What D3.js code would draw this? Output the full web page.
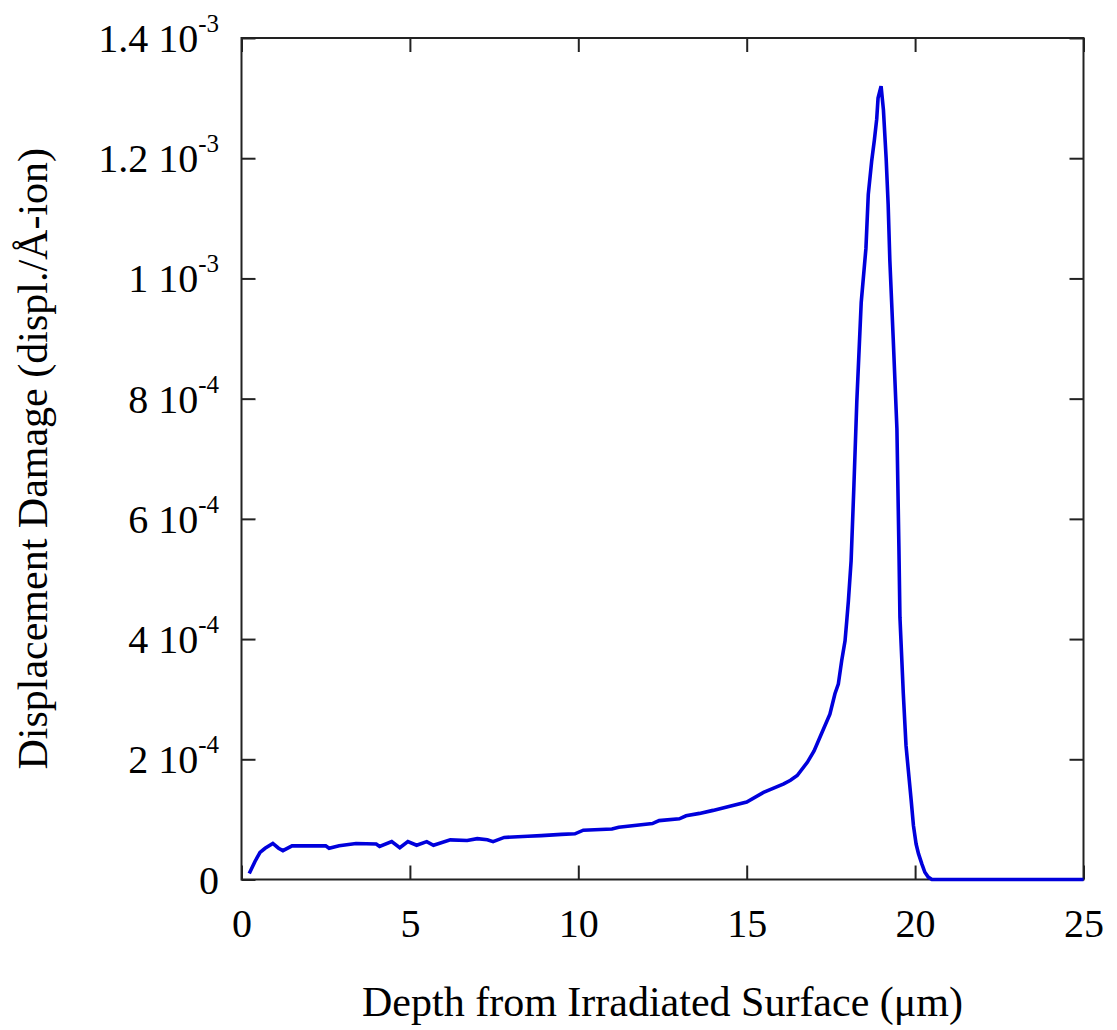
<!DOCTYPE html>
<html>
<head>
<meta charset="utf-8">
<script src="https://cdn.jsdelivr.net/npm/d3@7"></script>
<style>
  html, body { margin: 0; padding: 0; background: #fff; }
  svg { display: block; }
  text { font-family: "Liberation Serif", "Times New Roman", serif; fill: #000; }
</style>
</head>
<body>
<svg id="chart" width="1117" height="1030"></svg>
<script>
// Depth below the irradiated surface (µm)
const depth = [
  0.23, 0.40, 0.55, 0.70, 0.93, 1.10, 1.23, 1.50, 2.00, 2.50,
  2.60, 2.90, 3.40, 4.00, 4.10, 4.46, 4.70, 4.94, 5.20, 5.50,
  5.70, 6.20, 6.70, 7.00, 7.30, 7.47, 7.80, 8.50, 8.90, 9.50,
  9.90, 10.15, 11.00, 11.20, 12.20, 12.40, 13.00, 13.20, 13.60, 14.00,
  14.50, 15.00, 15.50, 15.80, 16.10, 16.30, 16.50, 16.80, 17.00, 17.20,
  17.47, 17.62, 17.72, 17.82, 17.92, 17.97, 18.02, 18.10, 18.18, 18.27,
  18.40, 18.54, 18.61, 18.71, 18.79, 18.86, 18.90, 18.99, 19.06, 19.14,
  19.20, 19.25, 19.35, 19.46, 19.52, 19.55, 19.65, 19.73, 19.80, 19.88,
  19.95, 20.03, 20.10, 20.20, 20.29, 20.39, 20.50, 25.00
];

// Displacement damage, displ./Å-ion
const damage = [
  0.10e-4, 0.30e-4, 0.45e-4, 0.52e-4, 0.60e-4, 0.52e-4, 0.48e-4, 0.56e-4, 0.56e-4, 0.56e-4,
  0.52e-4, 0.56e-4, 0.60e-4, 0.59e-4, 0.55e-4, 0.63e-4, 0.53e-4, 0.63e-4, 0.57e-4, 0.63e-4,
  0.57e-4, 0.66e-4, 0.65e-4, 0.68e-4, 0.66e-4, 0.63e-4, 0.70e-4, 0.72e-4, 0.73e-4, 0.75e-4,
  0.76e-4, 0.82e-4, 0.84e-4, 0.87e-4, 0.93e-4, 0.98e-4, 1.01e-4, 1.06e-4, 1.10e-4, 1.15e-4,
  1.22e-4, 1.29e-4, 1.45e-4, 1.52e-4, 1.59e-4, 1.65e-4, 1.73e-4, 1.95e-4, 2.14e-4, 2.40e-4,
  2.75e-4, 3.09e-4, 3.25e-4, 3.64e-4, 3.97e-4, 4.30e-4, 4.64e-4, 5.30e-4, 6.50e-4, 7.96e-4,
  9.60e-4, 10.5e-4, 11.4e-4, 11.95e-4, 12.3e-4, 12.65e-4, 13.0e-4, 13.2e-4, 12.8e-4, 12.0e-4,
  11.23e-4, 10.3e-4, 9.0e-4, 7.5e-4, 5.5e-4, 4.36e-4, 3.09e-4, 2.23e-4, 1.81e-4, 1.34e-4,
  0.90e-4, 0.59e-4, 0.43e-4, 0.26e-4, 0.12e-4, 0.04e-4, 0, 0
];

const xTicks = [0, 5, 10, 15, 20, 25];
const yTicks = [0, 2e-4, 4e-4, 6e-4, 8e-4, 1e-3, 1.2e-3, 1.4e-3];
// Tick labels as mantissa + power-of-ten exponent
const yTickMantissa = ["0", "2", "4", "6", "8", "1", "1.2", "1.4"];
const yTickExponent = ["", "-4", "-4", "-4", "-4", "-3", "-3", "-3"];

const xTitle = "Depth from Irradiated Surface (\u03bcm)";
const yTitle = "Displacement Damage (displ./\u00c5-ion)";

const W = 1117, H = 1030;
const plot = { left: 241.5, right: 1083.5, top: 38, bottom: 879.5 };
const tickLen = 14;

const svg = d3.select("#chart");

const x = d3.scaleLinear().domain([0, 25]).range([plot.left, plot.right]);
const y = d3.scaleLinear().domain([0, 1.4e-3]).range([plot.bottom, plot.top]);

const axisStroke = "#222";

// Bottom axis with inward ticks and labels
const gBottom = svg.append("g")
  .attr("transform", `translate(0,${plot.bottom})`)
  .call(d3.axisBottom(x).tickValues(xTicks).tickSize(-tickLen).tickFormat(d3.format("d")));
gBottom.selectAll("text")
  .attr("y", 57.5).attr("dy", null)
  .style("font-size", "40px");

// Top axis: ticks only
const gTop = svg.append("g")
  .attr("transform", `translate(0,${plot.top})`)
  .call(d3.axisTop(x).tickValues(xTicks).tickSize(-tickLen).tickFormat(""));

// Left axis with power-of-ten labels
const gLeft = svg.append("g")
  .attr("transform", `translate(${plot.left},0)`)
  .call(d3.axisLeft(y).tickValues(yTicks).tickSize(-tickLen).tickFormat(""));
gLeft.selectAll(".tick").each(function (d, i) {
  const t = d3.select(this).select("text")
    .attr("x", -22.5).attr("dy", null).attr("y", 13.5)
    .attr("text-anchor", "end")
    .style("font-size", "40px");
  const exp = yTickExponent[i];
  t.append("tspan").text(exp ? yTickMantissa[i] + " 10" : yTickMantissa[i]);
  if (exp) {
    t.append("tspan")
      .attr("dy", -20)
      .style("font-size", "25px")
      .text(exp);
  }
});

// Right axis: ticks only
const gRight = svg.append("g")
  .attr("transform", `translate(${plot.right},0)`)
  .call(d3.axisRight(y).tickValues(yTicks).tickSize(-tickLen).tickFormat(""));

[gBottom, gTop, gLeft, gRight].forEach(g => {
  g.select(".domain").remove();
  g.selectAll(".tick line").attr("stroke", axisStroke).attr("stroke-width", 2);
  g.attr("font-family", null).attr("font-size", null);
});

// Plot frame
svg.append("rect")
  .attr("x", plot.left).attr("y", plot.top)
  .attr("width", plot.right - plot.left)
  .attr("height", plot.bottom - plot.top)
  .attr("fill", "none")
  .attr("stroke", axisStroke)
  .attr("stroke-width", 2);

// Damage profile
const series = depth.map((d, i) => [d, damage[i]]);
const line = d3.line().x(d => x(d[0])).y(d => y(d[1]));
svg.append("path")
  .datum(series)
  .attr("d", line)
  .attr("fill", "none")
  .attr("stroke", "#0000dc")
  .attr("stroke-width", 3.6)
  .attr("stroke-linejoin", "miter")
  .attr("stroke-linecap", "butt");

// Axis titles
svg.append("text")
  .attr("x", (plot.left + plot.right) / 2)
  .attr("y", 1016)
  .attr("text-anchor", "middle")
  .style("font-size", "42px")
  .text(xTitle);

svg.append("text")
  .attr("transform", `translate(47,${(plot.top + plot.bottom) / 2}) rotate(-90)`)
  .attr("text-anchor", "middle")
  .style("font-size", "42px")
  .text(yTitle);
</script>
</body>
</html>
